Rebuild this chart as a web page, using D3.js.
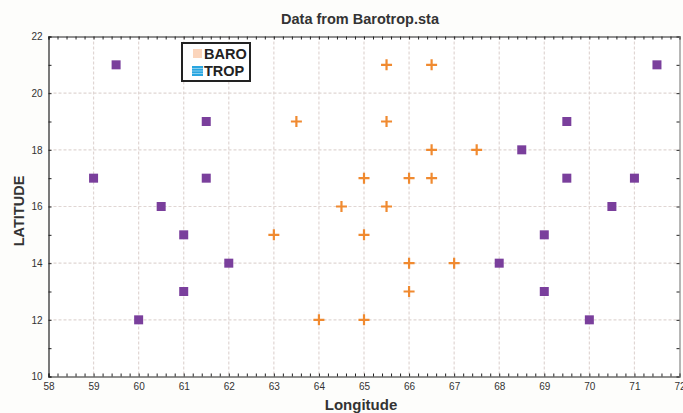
<!DOCTYPE html>
<html><head><meta charset="utf-8">
<script src="https://cdn.jsdelivr.net/npm/d3@7"></script>
<style>body{margin:0;background:#fdfdfb;} svg{display:block;}</style>
</head><body>
<svg id="c" width="683" height="413"></svg>
<script>
const baroLon = [63, 63.5, 64, 64.5, 65, 65, 65, 65.5, 65.5, 65.5, 66, 66, 66, 66.5, 66.5, 66.5, 67, 67.5];
const baroLat = [15, 19, 12, 16, 17, 15, 12, 21, 19, 16, 17, 14, 13, 21, 18, 17, 14, 18];
const tropLon = [59, 59.5, 60, 60.5, 61, 61, 61.5, 61.5, 62, 68, 68.5, 69, 69, 69.5, 69.5, 70, 70.5, 71, 71.5];
const tropLat = [17, 21, 12, 16, 15, 13, 19, 17, 14, 14, 18, 15, 13, 19, 17, 12, 16, 17, 21];
const xTicks = [58,59,60,61,62,63,64,65,66,67,68,69,70,71,72];
const yTicks = [10,12,14,16,18,20,22];
const legendNames = ["BARO","TROP"];

const svg = d3.select("#c");
const L = 48.5, R = 679.5, T = 36.5, B = 376.5;
const x = d3.scaleLinear().domain([58,72]).range([L,R]);
const y = d3.scaleLinear().domain([10,22]).range([B,T]);
const font = "Liberation Sans, Arial, sans-serif";

svg.append("rect").attr("width",683).attr("height",413).attr("fill","#fdfdfb");
svg.append("rect").attr("x",L).attr("y",T).attr("width",R-L).attr("height",B-T).attr("fill","#ffffff");

// grid
const g = svg.append("g");
g.selectAll(".vx").data(xTicks.slice(1,-1)).join("line")
  .attr("x1",d=>x(d)).attr("x2",d=>x(d)).attr("y1",T).attr("y2",B)
  .attr("stroke","#e0d6d3").attr("stroke-width",1.2).attr("stroke-dasharray","3,2");
g.selectAll(".hy").data(yTicks.slice(1,-1)).join("line")
  .attr("x1",L).attr("x2",R).attr("y1",d=>y(d)).attr("y2",d=>y(d))
  .attr("stroke","#e0d6d3").attr("stroke-width",1.2).attr("stroke-dasharray","3,2");

// axes (ticks inward)
const xMinor = d3.range(58,72.001,0.2);
const yMinor = d3.range(10,22.001,1);
const axB = d3.axisBottom(x).tickValues(xMinor).tickSize(-3).tickFormat("");
const axT = d3.axisTop(x).tickValues(xMinor).tickSize(-3).tickFormat("");
const axL = d3.axisLeft(y).tickValues(yMinor).tickSize(-3).tickFormat("");
const axR = d3.axisRight(y).tickValues(yMinor).tickSize(-3).tickFormat("");
function style(sel){ sel.selectAll("path,line").attr("stroke","#222"); sel.select(".domain").attr("stroke-width",1.2); }
svg.append("g").attr("transform",`translate(0,${B})`).call(axB).call(style);
svg.append("g").attr("transform",`translate(0,${T})`).call(axT).call(style);
svg.append("g").attr("transform",`translate(${L},0)`).call(axL).call(style);
svg.append("g").attr("transform",`translate(${R},0)`).call(axR).call(style)
  .select(".domain").attr("stroke","#888");
// tick labels
const axBL = d3.axisBottom(x).tickValues(xTicks).tickSize(0).tickPadding(6);
svg.append("g").attr("transform",`translate(0,${B})`).call(axBL)
  .call(s=>{s.select(".domain").remove(); s.selectAll("text").attr("font-family",font).attr("font-size",10).attr("fill","#333");});
const axLL = d3.axisLeft(y).tickValues(yTicks).tickSize(0).tickPadding(6);
svg.append("g").attr("transform",`translate(${L},0)`).call(axLL)
  .call(s=>{s.select(".domain").remove(); s.selectAll("text").attr("font-family",font).attr("font-size",10).attr("fill","#333");});

// markers
const baro = baroLon.map((v,i)=>({x:v,y:baroLat[i]}));
const trop = tropLon.map((v,i)=>({x:v,y:tropLat[i]}));
svg.append("g").selectAll("rect").data(trop).join("rect")
  .attr("x",d=>x(d.x)-4.5).attr("y",d=>y(d.y)-4.5).attr("width",9).attr("height",9)
  .attr("fill","#7a3f9c");
svg.append("g").selectAll("path").data(baro).join("path")
  .attr("d",d=>`M${x(d.x)-5.5},${y(d.y)}h11M${x(d.x)},${y(d.y)-5.5}v11`)
  .attr("stroke","#f08a30").attr("stroke-width",2.2).attr("fill","none");

// title & labels
svg.append("text").attr("x",360).attr("y",24).attr("text-anchor","middle")
  .attr("font-family",font).attr("font-weight","bold").attr("font-size",14.5).attr("fill","#333")
  .text("Data from Barotrop.sta");
svg.append("text").attr("x",361).attr("y",410).attr("text-anchor","middle")
  .attr("font-family",font).attr("font-weight","bold").attr("font-size",15).attr("fill","#333")
  .text("Longitude");
svg.append("text").attr("transform","translate(24,211) rotate(-90)").attr("text-anchor","middle")
  .attr("font-family",font).attr("font-weight","bold").attr("font-size",14.5).attr("fill","#333")
  .text("LATITUDE");

// legend
const lg = svg.append("g");
lg.append("rect").attr("x",182).attr("y",43).attr("width",68).attr("height",38)
  .attr("fill","#fff").attr("stroke","#222").attr("stroke-width",2);
lg.append("rect").attr("x",193).attr("y",49).attr("width",9).attr("height",9).attr("fill","#fbd5bc");
lg.append("rect").attr("x",192).attr("y",66).attr("width",11).attr("height",10).attr("fill","#2aa6e0");
[68.5,71,73.5].forEach(yy=>lg.append("line").attr("x1",192).attr("x2",203).attr("y1",yy).attr("y2",yy).attr("stroke","#9fd8f2").attr("stroke-width",0.8));
lg.selectAll("text").data(legendNames).join("text")
  .attr("x",204).attr("y",(d,i)=>59+i*17)
  .attr("font-family",font).attr("font-weight","bold").attr("font-size",14.5).attr("fill","#222")
  .text(d=>d);
</script>
</body></html>
